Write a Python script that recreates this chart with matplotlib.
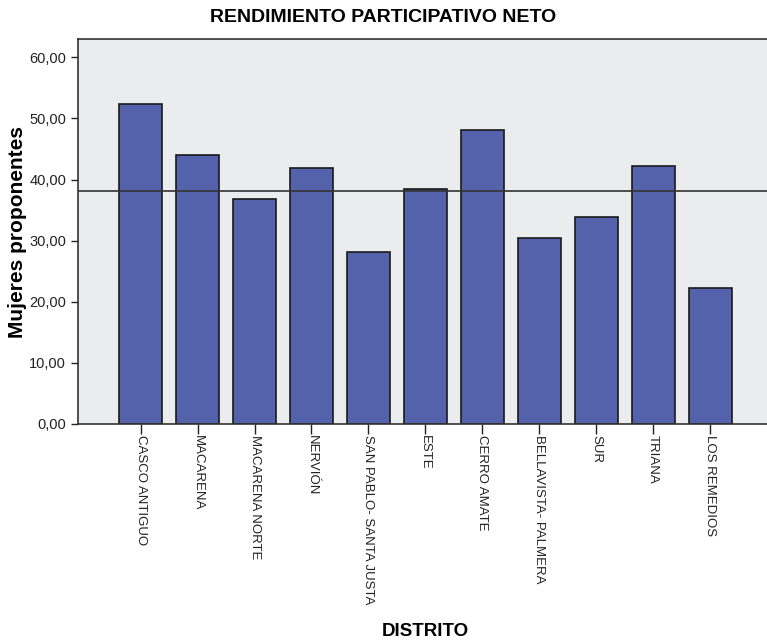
import matplotlib
matplotlib.use('Agg')
import matplotlib.pyplot as plt
from matplotlib.ticker import FuncFormatter

plt.rcParams['font.family'] = ['Liberation Sans', 'DejaVu Sans']

# data
distritos = ['CASCO ANTIGUO', 'MACARENA', 'MACARENA NORTE', 'NERVIÓN',
             'SAN PABLO- SANTA JUSTA', 'ESTE', 'CERRO AMATE',
             'BELLAVISTA- PALMERA', 'SUR', 'TRIANA', 'LOS REMEDIOS']
valores = [52.3, 44.0, 36.9, 41.9, 28.2, 38.4, 48.1, 30.4, 33.8, 42.2, 22.3]
media = 38.1
yticks = [0, 10, 20, 30, 40, 50, 60]

fig = plt.figure(figsize=(7.67, 6.42), dpi=100)
ax = fig.add_axes([0.1017, 0.3396, 0.8983, 0.5996])
ax.set_facecolor('#EBECEE')

x = range(len(distritos))
ax.bar(x, valores, width=0.755, color='#5462AC', edgecolor='#1a1a1a',
       linewidth=1.2, zorder=2)
ax.axhline(media, color='#333333', linewidth=1.2, zorder=3)

ax.set_xlim(-1.1, 11.0)
ax.set_ylim(0, 63.0)
ax.set_yticks(yticks)
ax.yaxis.set_major_formatter(FuncFormatter(lambda v, p: f'{v:.2f}'.replace('.', ',')))
ax.set_xticks(list(x))
ax.set_xticklabels(distritos, rotation=-90, fontsize=9.5, va='top', ha='center')
ax.tick_params(axis='y', labelsize=10.5, length=5, width=1, colors='#222222')
ax.tick_params(axis='x', length=7, width=1, pad=1, colors='#222222')

for s in ['left', 'top', 'bottom']:
    ax.spines[s].set_color('#333333')
    ax.spines[s].set_linewidth(1.2)
ax.spines['right'].set_visible(False)

ax.set_ylabel('Mujeres proponentes', fontsize=15, fontweight='bold', va='center')
ax.yaxis.set_label_coords(-0.088, 0.5)
# x axis title placed in figure coords
fig.text(0.555, 0.009, 'DISTRITO', fontsize=13.5, fontweight='bold',
         ha='center', va='baseline')
fig.text(0.5, 0.973, 'RENDIMIENTO PARTICIPATIVO NETO', fontsize=14,
         fontweight='bold', ha='center', va='center')

fig.savefig('out.png', dpi=100)
